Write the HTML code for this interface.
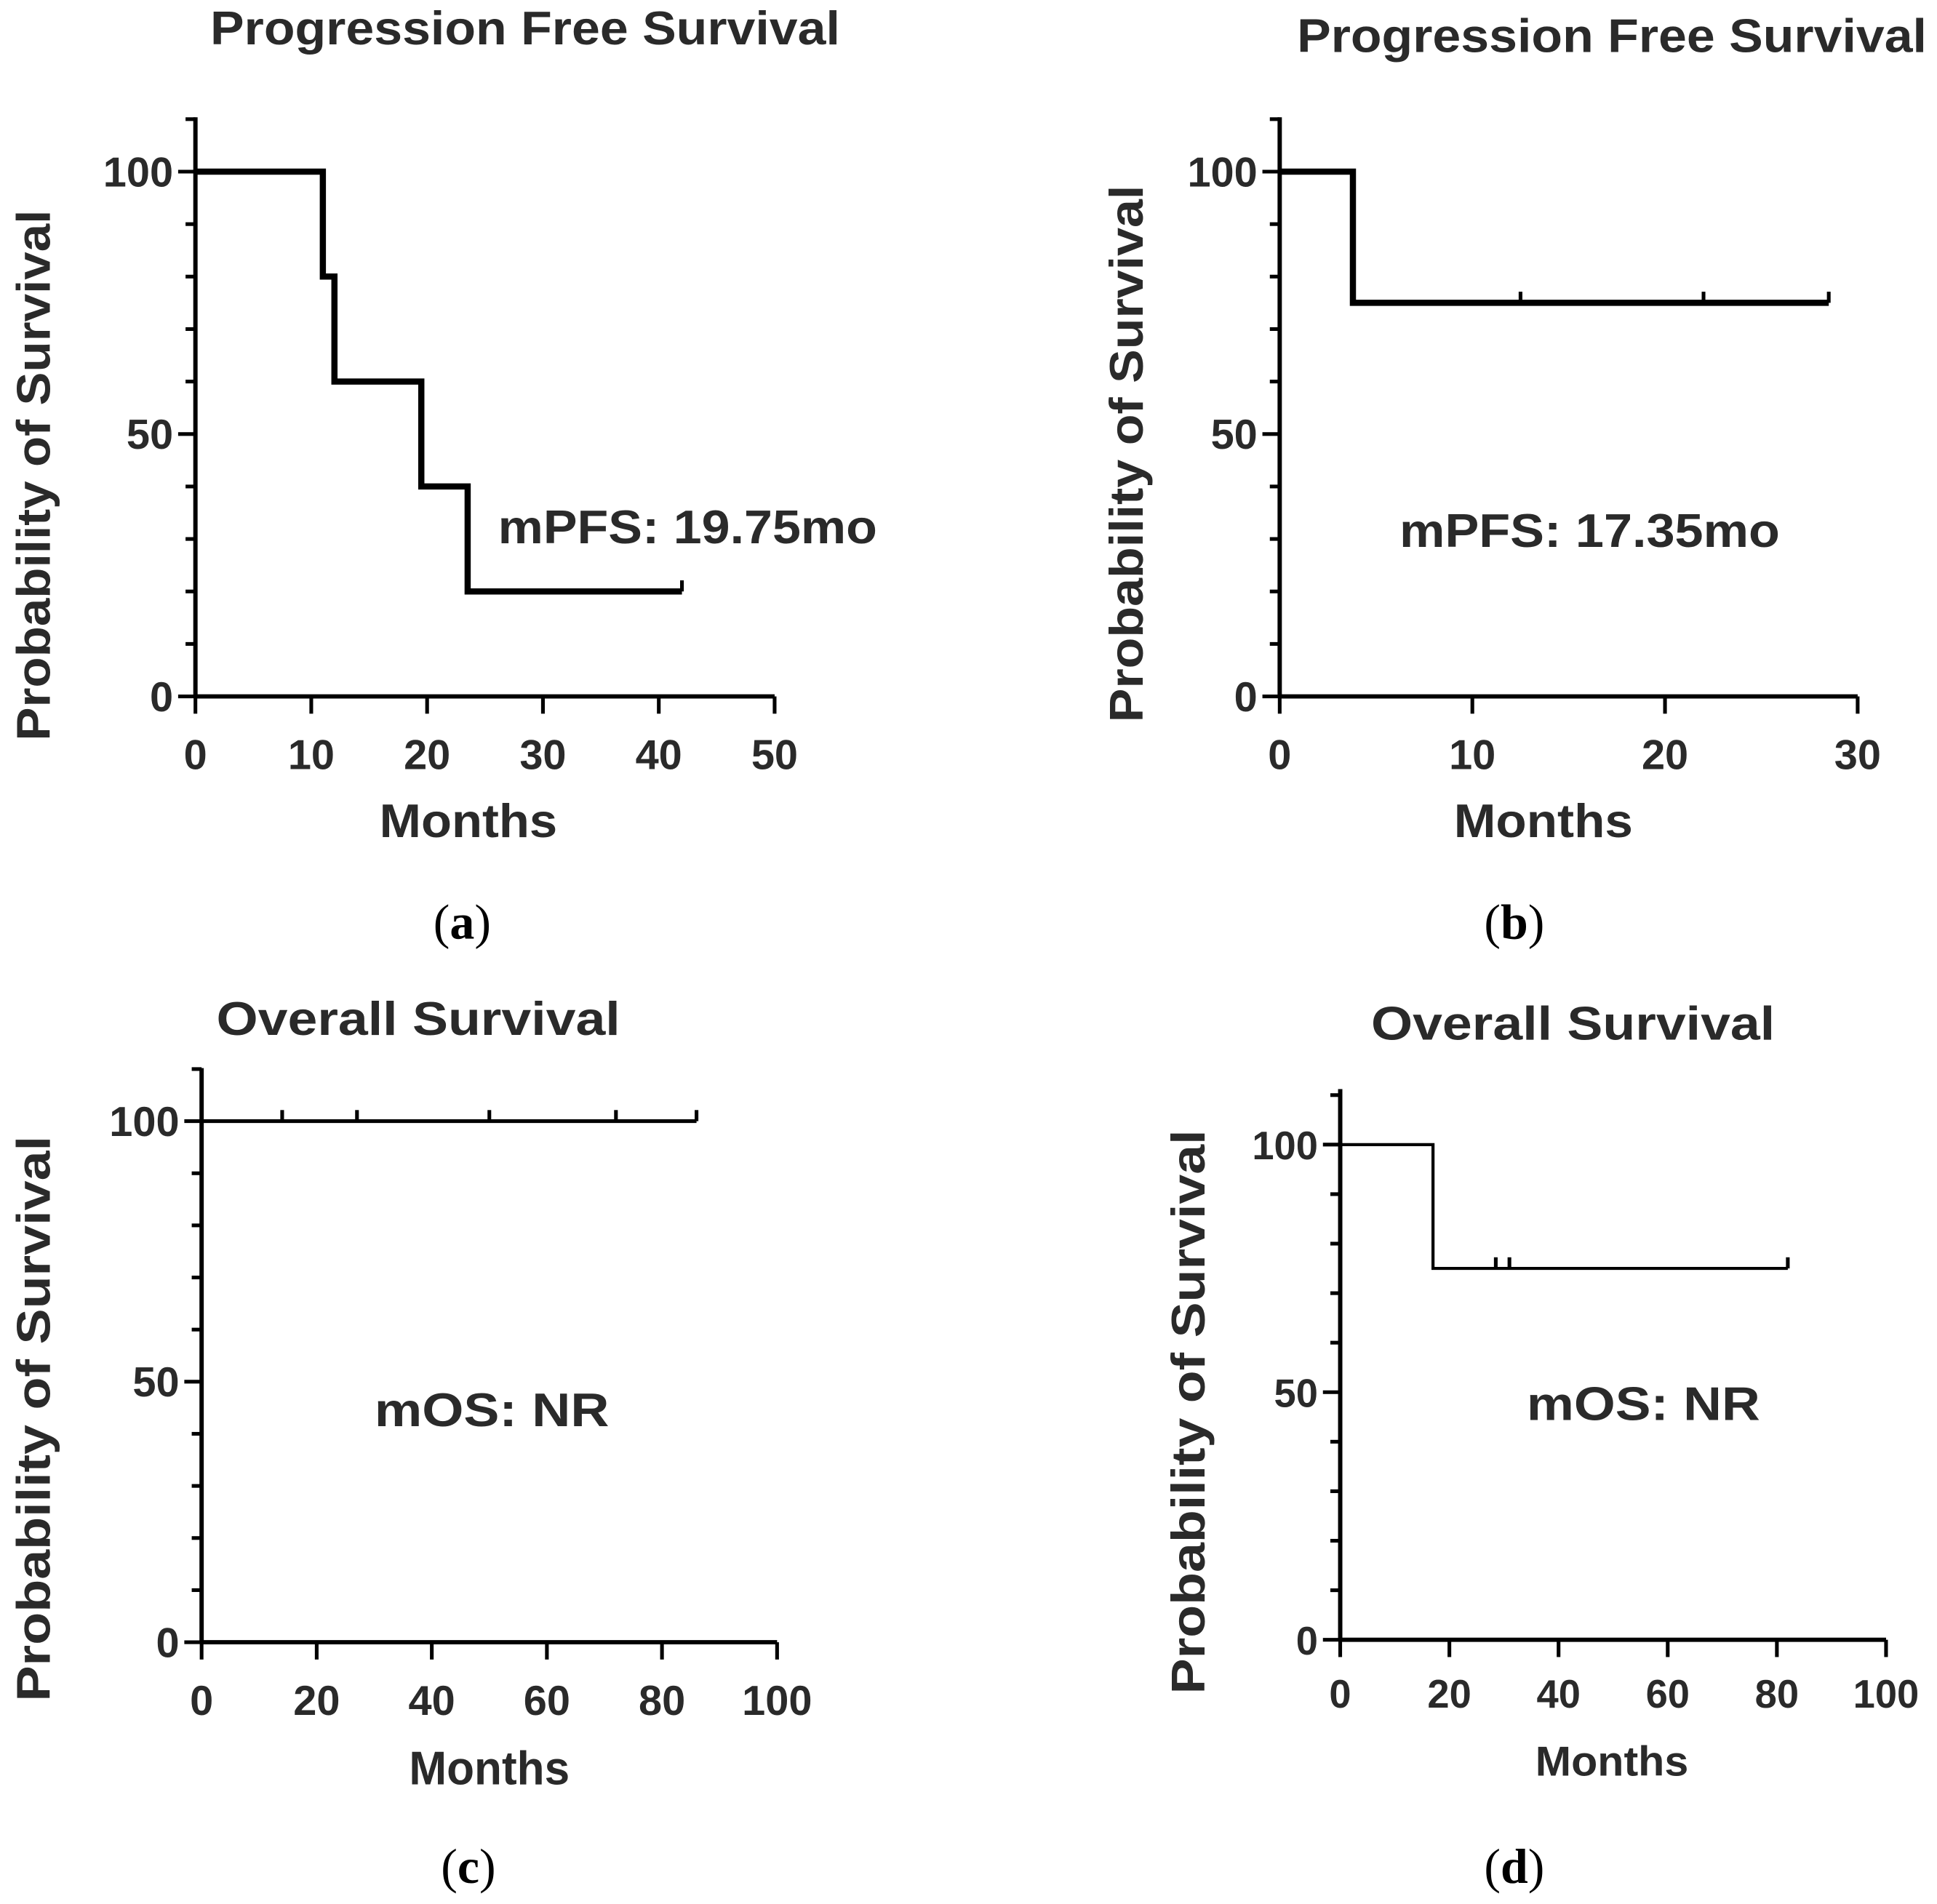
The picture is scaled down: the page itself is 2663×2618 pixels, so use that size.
<!DOCTYPE html>
<html><head><meta charset="utf-8"><style>
html,body{margin:0;padding:0;background:#fff}
svg{display:block}
text{font-family:"Liberation Sans",Arial,sans-serif;font-weight:bold;fill:#2a2a2a}
.lab{font-family:"Liberation Serif",serif;font-weight:normal;fill:#000}
</style></head><body>
<svg id="fig" width="2663" height="2618" viewBox="0 0 1568 1542" xmlns="http://www.w3.org/2000/svg"></svg>
<script>
// Panel data
const aTimes=[0,11,12,19.5,23.5,42];
const aSurv=[100,80,60,40,20,20];
const aCens=[42];
const bTimes=[0,3.8,28.5];
const bSurv=[100,75,75];
const bCens=[12.5,22,28.5];
const cTimes=[0,86];
const cSurv=[100,100];
const cCens=[14,27,50,72,86];
const dTimes=[0,17,82];
const dSurv=[100,75,75];
const dCens=[28.5,31,82];
const aXTicks=[0,10,20,30,40,50];
const bXTicks=[0,10,20,30];
const cdXTicks=[0,20,40,60,80,100];
const yTicks=[0,50,100];

const NS="http://www.w3.org/2000/svg";
const svg=document.getElementById('fig');
function mk(tag,attrs,parent){const e=document.createElementNS(NS,tag);for(const k in attrs)e.setAttribute(k,attrs[k]);(parent||svg).appendChild(e);return e;}

const panels=[
 {id:'a',x0:158,x1:627,xmax:50,y0:564,y100:139,top:95,times:aTimes,surv:aSurv,cens:aCens,xt:aXTicks,sw:5,
  title:'Progression Free Survival',t0:170,t1:680,ty:36,ann:'mPFS: 19.75mo',a0:403,a1:710,ay:440,ylx:40,yl0:170,yl1:600,xly:623,m0:307,m1:451,my:678,lx:374,ly:760,fs:34},
 {id:'b',x0:1036,x1:1504,xmax:30,y0:564,y100:139,top:95,times:bTimes,surv:bSurv,cens:bCens,xt:bXTicks,sw:5,
  title:'Progression Free Survival',t0:1050,t1:1560,ty:42,ann:'mPFS: 17.35mo',a0:1133,a1:1441,ay:443,ylx:925,yl0:150,yl1:585,xly:623,m0:1177,m1:1322,my:678,lx:1226,ly:760,fs:34},
 {id:'c',x0:163,x1:629,xmax:100,y0:1330,y100:908,top:865,times:cTimes,surv:cSurv,cens:cCens,xt:cdXTicks,sw:3,
  title:'Overall Survival',t0:175,t1:502,ty:838,ann:'mOS: NR',a0:303,a1:493,ay:1155,ylx:40,yl0:920,yl1:1378,xly:1389,m0:331,m1:461,my:1445,lx:379,ly:1525,fs:34},
 {id:'d',x0:1085,x1:1527,xmax:100,y0:1328,y100:927,top:882,times:dTimes,surv:dSurv,cens:dCens,xt:cdXTicks,sw:2.5,
  title:'Overall Survival',t0:1110,t1:1437,ty:842,ann:'mOS: NR',a0:1236,a1:1425,ay:1150,ylx:975,yl0:915,yl1:1372,xly:1383,m0:1243,m1:1367,my:1438,lx:1226,ly:1525,fs:32}
];

panels.forEach(p=>{
  const g=mk('g',{});
  
  
  const X=v=>p.x0+(p.x1-p.x0)*v/p.xmax;
  const Y=v=>p.y0-(p.y0-p.y100)*v/100;
  const t=mk('text',{x:p.t0,y:p.ty,'font-size':38,textLength:p.t1-p.t0,lengthAdjust:'spacingAndGlyphs'},g);t.textContent=p.title;
  
  
  const ya=mk('line',{x1:p.x0,y1:p.top,x2:p.x0,y2:p.y0,stroke:'#000','stroke-width':3.5},g);
  
  
  const xa=mk('line',{x1:p.x0,y1:p.y0,x2:p.x1,y2:p.y0,stroke:'#000','stroke-width':3.5},g);
  
  
  for(let v=0;v<=110;v+=10){mk('line',{x1:p.x0-(v%50?8:14),y1:Y(v),x2:p.x0,y2:Y(v),stroke:'#000','stroke-width':3},g);}
  yTicks.forEach(v=>{const tt=mk('text',{x:p.x0-18,y:Y(v)+12,'text-anchor':'end','font-size':p.fs},g);tt.textContent=v;
    
    });
  p.xt.forEach(v=>{mk('line',{x1:X(v),y1:p.y0,x2:X(v),y2:p.y0+14,stroke:'#000','stroke-width':3},g);
    const tt=mk('text',{x:X(v),y:p.xly,'text-anchor':'middle','font-size':p.fs},g);tt.textContent=v;
    
    });
  const yl=mk('text',{x:0,y:0,'font-size':38,textLength:p.yl1-p.yl0,lengthAdjust:'spacingAndGlyphs',transform:`translate(${p.ylx},${p.yl1}) rotate(-90)`},g);
  yl.textContent='Probability of Survival';
  
  
  const xl=mk('text',{x:p.m0,y:p.my,'font-size':p.id==='d'?34:38,textLength:p.m1-p.m0,lengthAdjust:'spacingAndGlyphs'},g);xl.textContent='Months';
  
  
  let d='M'+X(p.times[0])+','+Y(p.surv[0]);
  for(let i=1;i<p.times.length;i++){d+=' H'+X(p.times[i])+' V'+Y(p.surv[i]);}
  const path=mk('path',{d:d,fill:'none',stroke:'#000','stroke-width':p.sw,'stroke-linejoin':'miter'},g);
  
  
  p.cens.forEach(c=>{let s=p.surv[0];for(let i=0;i<p.times.length;i++)if(p.times[i]<=c)s=p.surv[i];
    const cm=mk('line',{x1:X(c),y1:Y(s),x2:X(c),y2:Y(s)-9,stroke:'#000','stroke-width':3},g);
    
    });
  const an=mk('text',{x:p.a0,y:p.ay,'font-size':38,textLength:p.a1-p.a0,lengthAdjust:'spacingAndGlyphs'},g);an.textContent=p.ann;
  
  
  const lb=mk('text',{x:p.lx,y:p.ly,'text-anchor':'middle','font-size':40,class:'lab'},g);
  lb.innerHTML='(<tspan font-weight="bold">'+p.id+'</tspan>)';
  
  
});
</script>
</body></html>
